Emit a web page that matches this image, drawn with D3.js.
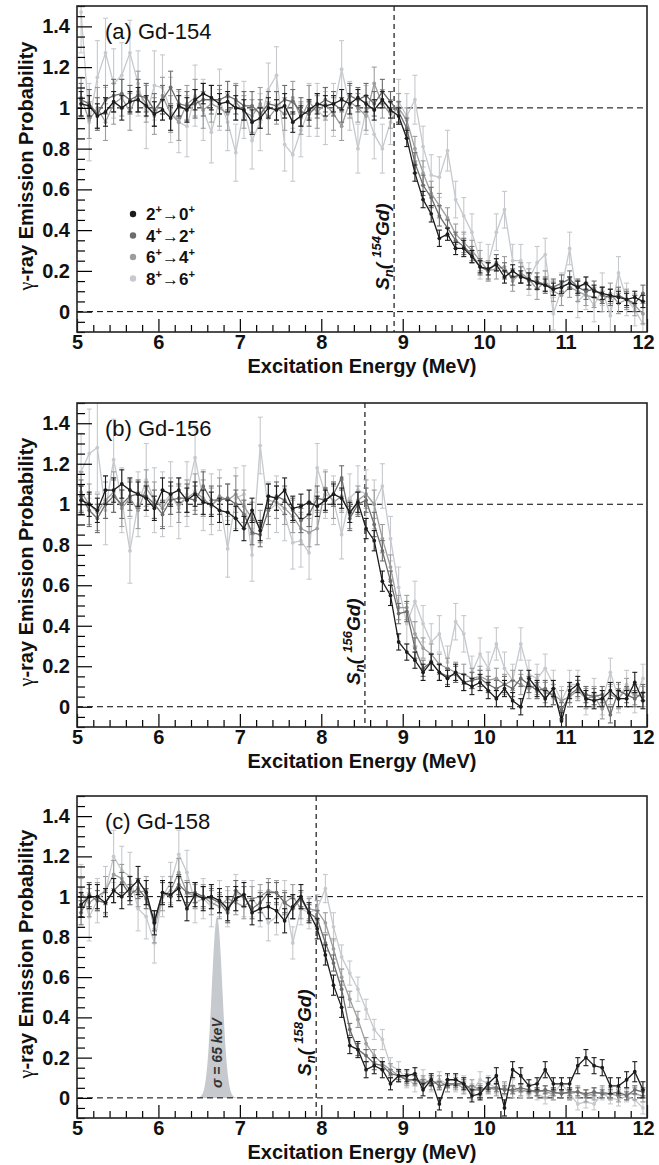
<!DOCTYPE html>
<html><head><meta charset="utf-8">
<script src="https://cdn.jsdelivr.net/npm/d3@7"></script>
<style>body{margin:0;background:#fff} text{font-family:"Liberation Sans",Arial,Helvetica,sans-serif}</style>
</head><body><svg id="c" width="659" height="1165"></svg>
<script>
// ---------------- data ----------------
const energies = [5.05,5.15,5.25,5.35,5.45,5.55,5.65,5.75,5.85,5.95,
6.05,6.15,6.25,6.35,6.45,6.55,6.65,6.75,6.85,6.95,
7.05,7.15,7.25,7.35,7.45,7.55,7.65,7.75,7.85,7.95,
8.05,8.15,8.25,8.35,8.45,8.55,8.65,8.75,8.85,8.95,
9.05,9.15,9.25,9.35,9.45,9.55,9.65,9.75,9.85,9.95,
10.05,10.15,10.25,10.35,10.45,10.55,10.65,10.75,10.85,10.95,
11.05,11.15,11.25,11.35,11.45,11.55,11.65,11.75,11.85,11.95];

const transitions = [["2","0"],["4","2"],["6","4"],["8","6"]];
const xTicks = [5,6,7,8,9,10,11,12];
const yTicks = [0,0.2,0.4,0.6,0.8,1,1.2,1.4];
const xDomain = [5,12];
const yDomain = [-0.1,1.5];

// Gd-154
const a0 = [1.02,1.01,0.96,0.98,1.03,1.00,1.03,1.04,1.01,0.97,
0.99,0.95,1.01,0.99,1.04,1.07,1.05,1.02,1.03,1.00,
0.99,0.93,0.95,1.00,0.99,1.01,0.93,0.96,0.99,1.02,
1.01,1.02,1.04,1.02,1.05,1.02,0.99,1.04,0.99,0.96,
0.85,0.68,0.55,0.48,0.36,0.38,0.31,0.31,0.27,0.22,
0.21,0.23,0.17,0.20,0.17,0.16,0.14,0.13,0.11,0.12,
0.14,0.12,0.14,0.10,0.09,0.08,0.07,0.06,0.07,0.05];
const a1 = [1.04,1.02,0.97,1.04,1.06,1.07,1.04,1.06,1.05,0.99,
1.04,1.10,1.02,1.01,1.02,1.04,1.04,1.04,1.06,1.04,
1.01,1.01,0.97,1.02,1.01,1.04,1.03,0.98,0.97,1.01,
1.04,1.02,0.99,1.06,1.04,1.06,1.02,1.08,1.03,0.98,
0.90,0.73,0.62,0.56,0.47,0.41,0.35,0.32,0.28,0.22,
0.20,0.24,0.20,0.17,0.18,0.15,0.15,0.13,0.12,0.14,
0.16,0.12,0.10,0.11,0.08,0.07,0.08,0.06,0.04,0.09];
const a2 = [1.05,0.94,1.00,0.93,1.02,1.05,0.98,1.08,1.02,0.96,
1.06,0.97,0.93,1.02,1.05,0.99,1.02,1.00,0.97,1.03,
0.98,0.96,1.02,0.95,1.00,0.97,1.05,0.95,1.03,0.98,
1.02,0.97,0.91,1.03,1.00,0.96,1.12,1.02,0.97,1.00,
0.94,0.80,0.68,0.58,0.52,0.46,0.38,0.34,0.30,0.25,
0.20,0.21,0.22,0.15,0.19,0.16,0.11,0.15,0.10,0.08,
0.12,0.10,0.08,0.07,0.05,0.09,0.04,0.06,0.03,-0.01];
const a3 = [1.47,0.93,1.15,1.27,1.12,1.16,1.27,1.12,0.96,1.11,
1.10,0.99,0.93,0.91,1.06,0.99,0.88,1.04,0.93,0.78,
0.99,0.84,0.93,1.09,1.16,0.82,0.77,0.89,0.99,0.99,
0.95,0.99,1.19,1.01,0.80,0.99,0.87,0.80,0.93,1.03,
0.96,1.04,0.81,0.67,0.66,0.79,0.55,0.47,0.39,0.25,
0.24,0.39,0.50,0.25,0.25,0.16,0.24,0.28,-0.01,0.11,
0.31,0.05,0.09,0.03,0.11,-0.02,0.19,0.06,0.01,-0.06];
const a0e = [0.06,0.05,0.06,0.07,0.05,0.06,0.05,0.06,0.05,0.06,
0.05,0.06,0.05,0.06,0.05,0.05,0.06,0.05,0.05,0.06,
0.05,0.06,0.05,0.05,0.05,0.06,0.05,0.05,0.05,0.05,
0.05,0.04,0.05,0.05,0.04,0.04,0.05,0.04,0.04,0.04,
0.04,0.04,0.04,0.04,0.04,0.03,0.03,0.04,0.03,0.03,
0.03,0.03,0.03,0.03,0.03,0.03,0.03,0.03,0.03,0.03,
0.03,0.03,0.03,0.03,0.03,0.03,0.03,0.03,0.03,0.03];
const a1e = [0.08,0.07,0.08,0.07,0.08,0.07,0.07,0.08,0.07,0.08,
0.07,0.08,0.07,0.07,0.07,0.08,0.07,0.07,0.07,0.07,
0.07,0.07,0.07,0.06,0.07,0.07,0.06,0.07,0.06,0.06,
0.06,0.06,0.06,0.06,0.06,0.06,0.06,0.06,0.05,0.05,
0.05,0.05,0.05,0.05,0.05,0.04,0.04,0.04,0.04,0.04,
0.04,0.04,0.04,0.04,0.04,0.04,0.04,0.04,0.04,0.04,
0.04,0.04,0.04,0.04,0.04,0.04,0.04,0.04,0.04,0.04];
const a2e = [0.10,0.09,0.10,0.09,0.10,0.09,0.09,0.10,0.09,0.09,
0.09,0.09,0.09,0.09,0.09,0.09,0.09,0.09,0.08,0.09,
0.08,0.08,0.08,0.08,0.08,0.08,0.08,0.08,0.08,0.08,
0.08,0.08,0.07,0.08,0.07,0.07,0.08,0.07,0.07,0.07,
0.06,0.06,0.06,0.06,0.06,0.05,0.05,0.05,0.05,0.05,
0.05,0.05,0.05,0.05,0.05,0.05,0.05,0.05,0.05,0.05,
0.05,0.05,0.05,0.05,0.05,0.05,0.05,0.05,0.05,0.05];
const a3e = [0.20,0.19,0.18,0.17,0.17,0.16,0.16,0.16,0.16,0.17,
0.16,0.16,0.15,0.15,0.15,0.15,0.15,0.15,0.14,0.14,
0.14,0.14,0.14,0.13,0.14,0.13,0.13,0.13,0.13,0.13,
0.13,0.13,0.14,0.12,0.12,0.12,0.12,0.12,0.11,0.11,
0.11,0.12,0.10,0.10,0.10,0.10,0.09,0.09,0.09,0.09,
0.09,0.09,0.09,0.08,0.08,0.08,0.08,0.08,0.08,0.08,
0.08,0.08,0.08,0.08,0.08,0.08,0.08,0.08,0.08,0.08];

// Gd-156
const b0 = [1.02,1.00,0.97,1.07,1.07,1.10,1.07,1.05,1.03,0.98,
1.07,1.05,1.07,1.02,1.05,1.01,1.00,0.97,0.96,0.93,
0.88,0.97,0.87,1.04,1.03,1.07,0.98,0.99,1.01,0.99,
1.02,1.05,1.03,0.96,1.01,0.88,0.82,0.62,0.55,0.32,
0.27,0.23,0.17,0.22,0.17,0.14,0.17,0.12,0.10,0.12,
0.08,0.04,0.09,0.03,0.00,0.14,0.09,0.04,0.09,-0.07,
0.08,0.11,0.04,0.03,0.04,0.08,0.04,0.04,0.12,0.03];
const b1 = [1.04,0.97,0.93,1.00,1.04,1.00,1.04,1.05,1.04,1.00,
0.95,1.02,1.03,1.03,1.02,1.09,1.02,1.02,1.03,1.00,
0.95,0.86,0.85,0.97,1.04,1.02,0.97,0.92,0.95,1.03,
1.02,1.05,1.13,0.93,1.00,1.02,0.90,0.77,0.62,0.46,
0.47,0.29,0.19,0.22,0.17,0.15,0.16,0.12,0.13,0.14,
0.11,0.09,0.11,0.09,0.14,0.11,0.08,0.09,0.05,-0.02,
0.06,0.09,0.06,0.05,0.06,-0.04,0.08,0.06,0.04,0.07];
const b2 = [1.06,1.00,0.96,1.02,1.06,0.98,1.03,0.97,1.08,1.02,
0.98,1.04,1.00,1.03,1.06,1.03,0.99,1.04,1.02,1.05,
0.99,0.93,0.89,1.02,1.01,0.98,0.94,0.88,0.86,0.88,
1.08,1.01,1.04,0.95,1.02,1.05,1.00,0.83,0.69,0.49,
0.49,0.36,0.29,0.26,0.21,0.19,0.17,0.16,0.14,0.15,
0.13,0.14,0.11,0.13,0.11,0.09,0.11,0.07,0.06,0.03,
0.05,0.08,0.04,0.05,-0.01,0.06,0.04,0.09,0.06,0.05];
const b3 = [1.16,1.25,1.28,0.97,1.22,1.02,0.77,1.00,1.12,1.02,
1.00,1.05,0.98,1.05,1.23,1.02,1.00,1.02,0.78,1.03,
1.05,0.75,1.29,0.97,1.00,0.95,0.81,0.82,0.76,1.18,
1.05,1.02,0.85,1.03,1.07,1.05,1.00,1.09,0.83,0.59,
0.41,0.52,0.41,0.32,0.36,0.22,0.42,0.36,0.17,0.26,
0.19,0.31,0.19,0.13,0.31,0.16,0.14,0.19,0.11,0.03,
0.11,0.11,0.03,0.07,0.03,0.17,0.04,0.11,0.04,0.14];
const b0e = [0.07,0.06,0.06,0.07,0.06,0.07,0.06,0.06,0.06,0.06,
0.06,0.06,0.06,0.06,0.06,0.06,0.06,0.06,0.06,0.06,
0.06,0.06,0.05,0.06,0.06,0.06,0.06,0.06,0.06,0.05,
0.05,0.05,0.05,0.05,0.05,0.05,0.05,0.05,0.05,0.04,
0.04,0.04,0.04,0.04,0.04,0.04,0.04,0.04,0.04,0.04,
0.04,0.04,0.04,0.04,0.04,0.04,0.04,0.04,0.04,0.04,
0.04,0.04,0.04,0.04,0.04,0.04,0.04,0.04,0.05,0.04];
const b1e = [0.08,0.08,0.07,0.07,0.08,0.07,0.07,0.07,0.07,0.07,
0.07,0.07,0.07,0.07,0.07,0.07,0.07,0.07,0.07,0.07,
0.07,0.06,0.06,0.07,0.07,0.07,0.06,0.06,0.06,0.06,
0.06,0.06,0.06,0.06,0.06,0.06,0.06,0.05,0.05,0.05,
0.05,0.05,0.04,0.04,0.04,0.04,0.04,0.04,0.04,0.04,
0.04,0.04,0.04,0.04,0.04,0.04,0.04,0.04,0.04,0.04,
0.04,0.04,0.04,0.04,0.04,0.04,0.04,0.04,0.04,0.04];
const b2e = [0.10,0.10,0.09,0.09,0.10,0.09,0.09,0.09,0.09,0.09,
0.09,0.09,0.09,0.09,0.09,0.09,0.09,0.09,0.08,0.09,
0.08,0.08,0.08,0.08,0.08,0.08,0.08,0.08,0.07,0.08,
0.08,0.08,0.08,0.07,0.07,0.07,0.07,0.07,0.06,0.06,
0.06,0.06,0.05,0.05,0.05,0.05,0.05,0.05,0.05,0.05,
0.05,0.05,0.05,0.05,0.05,0.05,0.05,0.05,0.05,0.05,
0.05,0.05,0.05,0.05,0.05,0.05,0.05,0.05,0.05,0.05];
const b3e = [0.19,0.22,0.22,0.17,0.20,0.16,0.16,0.16,0.18,0.16,
0.16,0.16,0.15,0.16,0.16,0.15,0.15,0.15,0.14,0.15,
0.14,0.13,0.14,0.14,0.14,0.13,0.13,0.13,0.13,0.12,
0.12,0.12,0.12,0.12,0.12,0.12,0.12,0.11,0.11,0.10,
0.10,0.10,0.09,0.09,0.09,0.08,0.09,0.09,0.08,0.08,
0.08,0.08,0.08,0.08,0.08,0.07,0.07,0.07,0.07,0.07,
0.07,0.07,0.07,0.07,0.07,0.07,0.07,0.07,0.07,0.07];

// Gd-158
const c0 = [0.96,1.00,1.00,0.97,1.03,1.00,1.04,1.08,1.02,0.87,
1.02,1.01,1.04,0.94,1.01,0.99,1.00,0.98,0.94,0.99,
1.01,0.92,0.94,0.95,0.93,0.88,0.95,1.00,0.92,0.84,
0.71,0.56,0.45,0.26,0.24,0.14,0.16,0.14,0.07,0.11,
0.11,0.12,0.04,0.09,-0.03,0.09,0.09,0.07,0.01,0.02,
0.07,0.11,-0.05,0.14,0.11,0.06,0.07,0.14,0.07,0.07,
0.07,0.16,0.20,0.16,0.15,0.06,0.06,0.09,0.13,0.04];
const c1 = [0.92,1.01,0.98,0.97,1.03,1.07,1.01,1.04,0.99,0.88,
1.02,1.00,1.06,1.02,1.02,1.00,0.99,0.97,0.92,1.03,
1.00,0.94,0.97,1.02,1.02,0.97,0.94,0.99,0.92,0.89,
0.77,0.67,0.54,0.34,0.24,0.21,0.17,0.16,0.12,0.11,
0.09,0.09,0.07,0.09,0.06,0.07,0.07,0.07,0.04,0.04,
0.05,0.05,0.04,0.04,0.05,0.04,0.03,0.04,0.03,0.02,
0.03,0.03,0.02,0.03,0.02,0.02,0.03,0.01,0.04,0.03];
const c2 = [1.02,0.97,1.00,1.03,1.11,1.09,1.03,1.02,1.03,0.84,
1.00,1.03,1.12,1.02,1.00,1.00,0.97,0.95,0.99,0.97,
0.95,0.99,1.00,1.03,1.02,0.97,1.00,0.94,0.94,0.93,
0.87,0.74,0.60,0.49,0.39,0.27,0.21,0.17,0.14,0.11,
0.09,0.09,0.08,0.07,0.08,0.06,0.07,0.05,0.06,0.04,
0.05,0.04,0.05,0.03,0.04,0.03,0.04,0.03,0.02,0.03,
0.02,0.03,0.01,0.02,0.03,0.02,0.01,0.02,0.02,0.01];
const c3 = [1.04,0.90,0.98,1.03,1.20,1.13,1.10,0.94,0.90,0.77,
1.00,1.07,1.21,1.12,0.97,0.99,0.95,0.99,0.94,1.02,
0.99,0.99,0.94,0.87,0.90,1.00,0.77,0.94,0.92,0.94,
1.04,0.85,0.70,0.62,0.54,0.44,0.34,0.29,0.16,0.14,
0.09,0.07,0.10,0.07,0.09,0.07,0.07,0.07,0.03,0.09,
0.07,0.05,0.04,0.06,0.03,0.04,0.02,0.00,0.02,0.07,
0.02,-0.03,-0.02,-0.03,0.02,0.00,-0.01,0.01,-0.01,-0.05];
const c0e = [0.06,0.06,0.06,0.07,0.06,0.06,0.06,0.07,0.06,0.06,
0.06,0.06,0.06,0.06,0.06,0.06,0.06,0.06,0.06,0.06,
0.06,0.06,0.06,0.06,0.06,0.06,0.06,0.06,0.05,0.05,
0.05,0.05,0.05,0.04,0.04,0.04,0.04,0.04,0.03,0.03,
0.03,0.03,0.03,0.03,0.03,0.03,0.03,0.03,0.03,0.03,
0.03,0.04,0.04,0.04,0.04,0.03,0.03,0.04,0.03,0.03,
0.03,0.04,0.04,0.04,0.04,0.04,0.04,0.04,0.05,0.04];
const c1e = [0.06,0.06,0.05,0.05,0.06,0.05,0.05,0.05,0.05,0.05,
0.05,0.05,0.05,0.05,0.05,0.05,0.05,0.05,0.05,0.05,
0.05,0.05,0.05,0.05,0.05,0.05,0.05,0.04,0.04,0.04,
0.04,0.04,0.04,0.03,0.03,0.03,0.03,0.02,0.02,0.02,
0.02,0.02,0.02,0.02,0.02,0.02,0.02,0.02,0.02,0.02,
0.02,0.02,0.02,0.02,0.02,0.02,0.02,0.02,0.02,0.02,
0.02,0.02,0.02,0.02,0.02,0.02,0.02,0.02,0.02,0.02];
const c2e = [0.07,0.07,0.07,0.07,0.07,0.07,0.07,0.07,0.07,0.07,
0.07,0.07,0.07,0.06,0.06,0.06,0.06,0.06,0.06,0.06,
0.06,0.06,0.06,0.06,0.06,0.06,0.06,0.05,0.05,0.05,
0.05,0.05,0.04,0.04,0.04,0.03,0.03,0.03,0.03,0.03,
0.03,0.03,0.03,0.03,0.03,0.03,0.03,0.03,0.03,0.03,
0.03,0.03,0.03,0.03,0.03,0.03,0.03,0.03,0.03,0.03,
0.03,0.03,0.03,0.03,0.03,0.03,0.03,0.03,0.03,0.03];
const c3e = [0.12,0.12,0.11,0.12,0.13,0.12,0.12,0.11,0.11,0.10,
0.10,0.10,0.12,0.11,0.10,0.10,0.10,0.09,0.09,0.09,
0.09,0.09,0.09,0.09,0.09,0.08,0.08,0.08,0.08,0.07,
0.07,0.07,0.06,0.06,0.06,0.05,0.05,0.05,0.04,0.04,
0.04,0.04,0.04,0.04,0.04,0.04,0.04,0.04,0.04,0.04,
0.04,0.03,0.03,0.03,0.03,0.03,0.03,0.03,0.03,0.03,
0.03,0.03,0.03,0.03,0.03,0.03,0.03,0.03,0.03,0.03];

const panelLabels = ["(a) Gd-154","(b) Gd-156","(c) Gd-158"];
const massNumbers = ["154","156","158"];
const snValues = [8.894, 8.536, 7.937];
const panelValues = [[a0,a1,a2,a3],[b0,b1,b2,b3],[c0,c1,c2,c3]];
const panelErrors = [[a0e,a1e,a2e,a3e],[b0e,b1e,b2e,b3e],[c0e,c1e,c2e,c3e]];
// resolution indicator (panel c)
const gaussCenter = 6.72, gaussSigma = 0.065, gaussPeak = 0.9;

// ---------------- layout / style ----------------
const left = 77, right = 647;
const boxes = [{top:6,bottom:332},{top:403,bottom:727},{top:796,bottom:1118}];
const colors = ["#1c1c1c","#6c6c6c","#9d9d9d","#c6c9cd"];
const svg = d3.select("#c");
const defs = svg.append("defs");

panelValues.forEach((series, pi) => {
  const b = boxes[pi];
  const x = d3.scaleLinear().domain(xDomain).range([left, right]);
  const y = d3.scaleLinear().domain(yDomain).range([b.bottom, b.top]);
  const g = svg.append("g");
  defs.append("clipPath").attr("id","clip"+pi).append("rect")
    .attr("x",left).attr("y",b.top).attr("width",right-left).attr("height",b.bottom-b.top);
  const plot = g.append("g").attr("clip-path",`url(#clip${pi})`);

  if (pi === 2) {
    const gx = d3.range(gaussCenter-4*gaussSigma, gaussCenter+4*gaussSigma+1e-9, gaussSigma/10);
    plot.append("path")
      .datum(gx)
      .attr("fill","#c6c9cd")
      .attr("d", d3.area().x(d=>x(d)).y0(y(0))
        .y1(d=>y(gaussPeak*Math.exp(-0.5*Math.pow((d-gaussCenter)/gaussSigma,2)))));
  }

  // dashed reference lines
  const dash = "6,4";
  plot.append("line").attr("x1",left).attr("x2",right).attr("y1",y(0)).attr("y2",y(0))
    .attr("stroke","#000").attr("stroke-width",1).attr("stroke-dasharray",dash);
  plot.append("line").attr("x1",left).attr("x2",right).attr("y1",y(1)).attr("y2",y(1))
    .attr("stroke","#000").attr("stroke-width",1).attr("stroke-dasharray",dash);
  plot.append("line").attr("x1",x(snValues[pi])).attr("x2",x(snValues[pi]))
    .attr("y1",b.top).attr("y2",b.bottom)
    .attr("stroke","#000").attr("stroke-width",1.1).attr("stroke-dasharray","5,4");

  // series (light first)
  for (let s = 3; s >= 0; s--) {
    const pts = energies.map((e,i)=>({e, v:series[s][i], err:panelErrors[pi][s][i]}));
    const sg = plot.append("g");
    const col = colors[s];
    const eb = sg.selectAll("g.eb").data(pts).join("g");
    eb.append("line").attr("x1",d=>x(d.e)).attr("x2",d=>x(d.e))
      .attr("y1",d=>y(d.v-d.err)).attr("y2",d=>y(d.v+d.err))
      .attr("stroke",col).attr("stroke-width",1.1);
    eb.append("line").attr("x1",d=>x(d.e)-2.5).attr("x2",d=>x(d.e)+2.5)
      .attr("y1",d=>y(d.v-d.err)).attr("y2",d=>y(d.v-d.err))
      .attr("stroke",col).attr("stroke-width",1.1);
    eb.append("line").attr("x1",d=>x(d.e)-2.5).attr("x2",d=>x(d.e)+2.5)
      .attr("y1",d=>y(d.v+d.err)).attr("y2",d=>y(d.v+d.err))
      .attr("stroke",col).attr("stroke-width",1.1);
    sg.append("path").datum(pts).attr("fill","none").attr("stroke",col).attr("stroke-width",1.3)
      .attr("d", d3.line().x(d=>x(d.e)).y(d=>y(d.v)));
    sg.selectAll("circle").data(pts).join("circle")
      .attr("cx",d=>x(d.e)).attr("cy",d=>y(d.v)).attr("r",1.9).attr("fill",col);
  }

  // axes (inward ticks)
  const minorY = d3.range(-0.1, 1.5001, 0.05).filter(v => Math.abs(v*5 - Math.round(v*5)) > 1e-6);
  const minorX = d3.range(5, 12.0001, 0.2).filter(v => Math.abs(v - Math.round(v)) > 1e-6);
  const fmt = d => String(+d.toFixed(1));
  const yAx = g.append("g").attr("transform",`translate(${left},0)`)
    .call(d3.axisLeft(y).tickValues(yTicks).tickSize(-15).tickPadding(7).tickFormat(fmt));
  g.append("g").attr("transform",`translate(${left},0)`)
    .call(d3.axisLeft(y).tickValues(minorY).tickSize(-8).tickFormat(""));
  const xAx = g.append("g").attr("transform",`translate(0,${b.bottom})`)
    .call(d3.axisBottom(x).tickValues(xTicks).tickSize(-13).tickPadding(3).tickFormat(d3.format("d")));
  g.append("g").attr("transform",`translate(0,${b.bottom})`)
    .call(d3.axisBottom(x).tickValues(minorX).tickSize(-7).tickFormat(""));
  g.selectAll(".domain").remove();
  g.selectAll(".tick line").attr("stroke","#000").attr("stroke-width",1.2);
  yAx.selectAll("text").attr("font-size",20).attr("font-weight","bold").attr("fill","#111");
  xAx.selectAll("text").attr("font-size",20).attr("font-weight","bold").attr("fill","#111").attr("dy","0.72em");
  xAx.selectAll(".tick").filter(d=>d===12).select("text").attr("dx",-4);

  // frame
  g.append("rect").attr("x",left).attr("y",b.top).attr("width",right-left).attr("height",b.bottom-b.top)
    .attr("fill","none").attr("stroke","#222").attr("stroke-width",1.6);

  // axis titles
  g.append("text").attr("x",(left+right)/2).attr("y",b.bottom+41).attr("text-anchor","middle")
    .attr("font-size",20).attr("font-weight","bold").attr("fill","#111").text("Excitation Energy (MeV)");
  const yt = g.append("text").attr("transform",`translate(33,${(b.top+b.bottom)/2-3}) rotate(-90)`)
    .attr("text-anchor","middle").attr("font-size",20).attr("font-weight","bold").attr("fill","#111");
  yt.append("tspan").attr("font-family","'Liberation Serif','DejaVu Serif',serif").attr("font-weight","normal").text("γ");
  yt.append("tspan").text("-ray Emission Probability");

  // panel label
  g.append("text").attr("x",105).attr("y",b.top+33).attr("font-size",22).attr("fill","#111").text(panelLabels[pi]);

  // Sn label
  const sx = x(snValues[pi]) - 5;
  const st = g.append("text").attr("transform",`translate(${sx},${b.bottom-42}) rotate(-90)`)
    .attr("font-size",19).attr("font-weight","bold").attr("font-style","italic").attr("fill","#111");
  st.append("tspan").text("S");
  st.append("tspan").attr("font-size",13).attr("dy",4).text("n");
  st.append("tspan").attr("dy",-4).text("( ");
  st.append("tspan").attr("font-size",13).attr("dy",-8).text(massNumbers[pi]);
  st.append("tspan").attr("dy",8).text("Gd)");

  if (pi === 2) {
    g.append("text").attr("transform",`translate(${x(gaussCenter)+5},${y(0)-10}) rotate(-90)`)
      .attr("font-size",14).attr("font-weight","bold").attr("font-style","italic").attr("fill","#333")
      .text("σ = 65 keV");
  }

  if (pi === 0) {
    const ly = [214, 235.5, 257, 278.5];
    transitions.forEach((t, k) => {
      g.append("circle").attr("cx",133).attr("cy",ly[k]).attr("r",3.2).attr("fill",colors[k]);
      const lt = g.append("text").attr("x",146).attr("y",ly[k]+6).attr("font-size",17)
        .attr("font-weight","bold").attr("fill","#111");
      lt.append("tspan").text(t[0]);
      lt.append("tspan").attr("font-size",11).attr("dy",-7).text("+");
      lt.append("tspan").attr("dy",7).attr("font-weight","normal").text("→");
      lt.append("tspan").text(t[1]);
      lt.append("tspan").attr("font-size",11).attr("dy",-7).text("+");
    });
  }
});
</script></body></html>
